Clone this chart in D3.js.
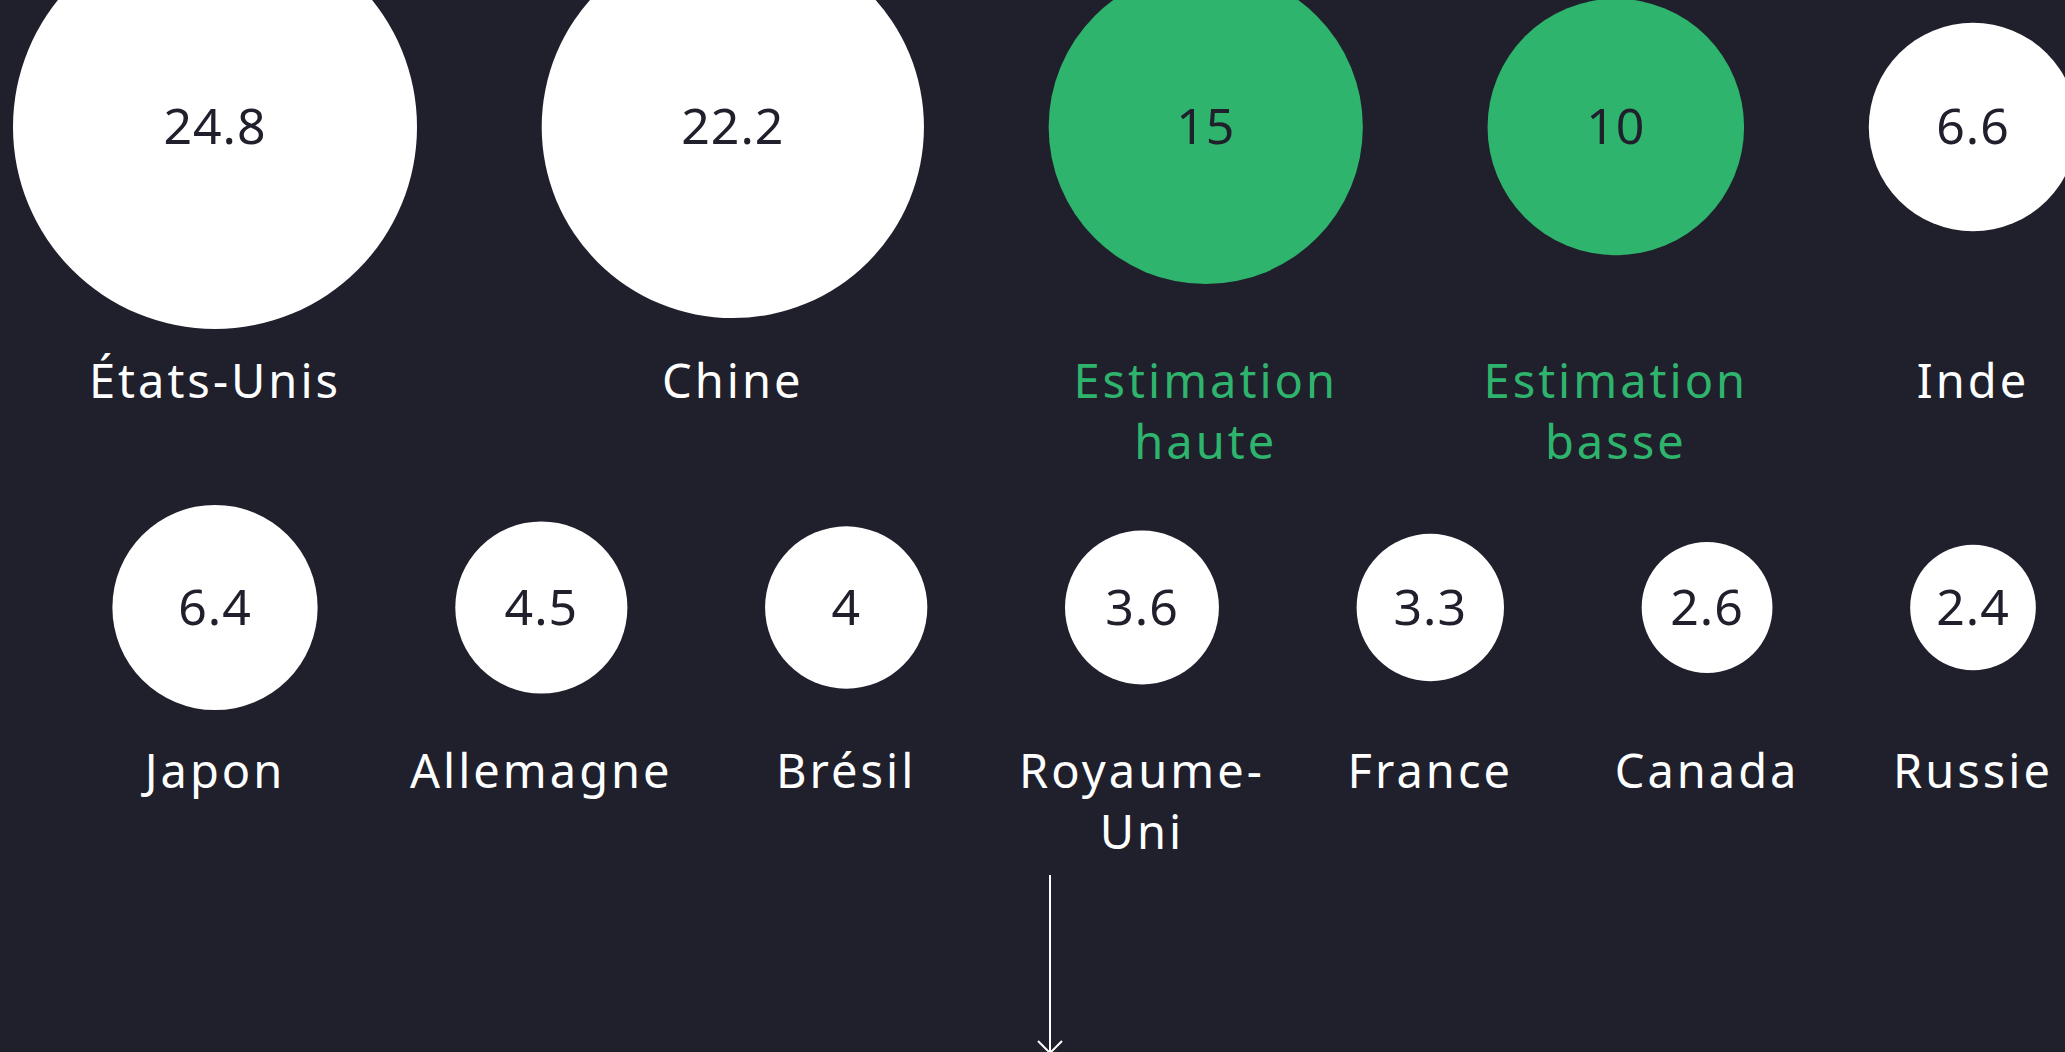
<!DOCTYPE html>
<html lang="fr">
<head>
<meta charset="utf-8">
<script src="https://cdn.jsdelivr.net/npm/d3@7"></script>
<style>
  html, body { margin: 0; padding: 0; background: #20202d; overflow: hidden; }
  svg { display: block; }
  .value { font-family: "Noto Sans", sans-serif; font-size: 50px; fill: #20202d; text-anchor: middle; letter-spacing: 1px; }
  .label { font-family: "Noto Sans", sans-serif; font-size: 47px; fill: #ffffff; text-anchor: middle; letter-spacing: 3px; }
</style>
</head>
<body>
<div id="chart"></div>
<script>
// Données
const row1Labels = ['États-Unis', 'Chine', 'Estimation haute', 'Estimation basse', 'Inde'];
const row1Values = [24.8, 22.2, 15, 10, 6.6];
const row2Labels = ['Japon', 'Allemagne', 'Brésil', 'Royaume-Uni', 'France', 'Canada', 'Russie'];
const row2Values = [6.4, 4.5, 4, 3.6, 3.3, 2.6, 2.4];
const highlighted = ['Estimation haute', 'Estimation basse'];

const width = 2065;
const height = 1052;
const green = '#2eb46c';

const svg = d3.select('#chart')
  .append('svg')
  .attr('width', width)
  .attr('height', height);

// rayon proportionnel à la racine de la valeur
const r = d3.scaleSqrt()
  .domain([0, d3.max(row1Values)])
  .range([0, 202]);

// premier et dernier centre fixes, espace égal entre les cercles
function layoutX(values, x0, x1) {
  const radii = values.map(r);
  const inner = d3.sum(radii.slice(1, -1)) * 2;
  const gap = (x1 - x0 - radii[0] - radii[radii.length - 1] - inner) / (values.length - 1);
  let pos = x0;
  return radii.map((d, i) => {
    if (i > 0) pos += radii[i - 1] + gap + d;
    return pos;
  });
}

const rows = [
  { labels: row1Labels, values: row1Values, cy: 127, labelY: 398 },
  { labels: row2Labels, values: row2Values, cy: 607.5, labelY: 788 }
];

const lineHeight = 61;
const wrapWidth = 300;

// coupe le libellé aux espaces / traits d'union s'il est trop long
function wrap(textSel) {
  textSel.each(function(d) {
    const text = d3.select(this);
    const words = d.label.split(/(?<=-)|\s+/);
    let line = [];
    let lines = [];
    const tmp = text.append('tspan');
    words.forEach(w => {
      const attempt = line.concat(w);
      tmp.text(attempt.join(' ').replace(/- /g, '-'));
      if (tmp.node().getComputedTextLength() > wrapWidth && line.length) {
        lines.push(line);
        line = [w];
      } else {
        line = attempt;
      }
    });
    lines.push(line);
    tmp.remove();
    lines.forEach((l, i) => {
      text.append('tspan')
        .attr('x', d.x)
        .attr('dy', i === 0 ? 0 : lineHeight)
        .text(l.join(' ').replace(/- /g, '-'));
    });
  });
}

rows.forEach(row => {
  const xs = layoutX(row.values, 215, 1973);
  const data = row.labels.map((label, i) => ({
    label,
    value: row.values[i],
    x: xs[i],
    hi: highlighted.includes(label)
  }));

  const g = svg.append('g');

  g.selectAll('circle')
    .data(data)
    .enter()
    .append('circle')
    .attr('cx', d => d.x)
    .attr('cy', row.cy)
    .attr('r', d => r(d.value))
    .attr('fill', d => d.hi ? green : '#ffffff');

  g.selectAll('.value')
    .data(data)
    .enter()
    .append('text')
    .attr('class', 'value')
    .attr('x', d => d.x)
    .attr('y', row.cy + 17)
    .text(d => String(d.value));

  g.selectAll('.label')
    .data(data)
    .enter()
    .append('text')
    .attr('class', 'label')
    .attr('x', d => d.x)
    .attr('y', row.labelY)
    .style('fill', d => d.hi ? green : '#ffffff')
    .call(wrap);
});

// Flèche vers le bas
const arrowX = 1050;
svg.append('line')
  .attr('x1', arrowX).attr('x2', arrowX)
  .attr('y1', 875).attr('y2', 1052)
  .attr('stroke', '#ffffff')
  .attr('stroke-width', 2);

svg.append('path')
  .attr('d', `M${arrowX - 12},${1041} L${arrowX},${1053} L${arrowX + 12},${1041}`)
  .attr('fill', 'none')
  .attr('stroke', '#ffffff')
  .attr('stroke-width', 2);
</script>
</body>
</html>
